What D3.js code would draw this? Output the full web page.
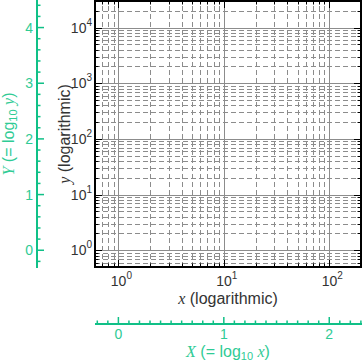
<!DOCTYPE html>
<html lang="en">
<head>
<meta charset="UTF-8" />
<title>Log axes</title>
<script src="https://cdn.jsdelivr.net/npm/d3@7"></script>
<style>
  body { margin: 0; background: #fff; }
  svg { display: block; }
  .grid-major { stroke: #8c8c8c; stroke-width: 1; }
  .grid-minor { stroke: #8c8c8c; stroke-width: 1; stroke-dasharray: 5,3; }
  .frame { fill: none; stroke: #000; stroke-width: 2; }
  .tick { stroke: #000; stroke-width: 1; }
  .lbl { font-family: "Liberation Sans", Arial, sans-serif; fill: #333; }
  .teal { stroke: #10c087; stroke-width: 2; }
  .teal-tick { stroke: #10c087; stroke-width: 1.5; }
  .teal-lbl { font-family: "Liberation Sans", Arial, sans-serif; fill: #2fcb95; }
  .math { font-family: "Liberation Serif", "DejaVu Serif", serif; font-style: italic; }
</style>
</head>
<body>
<script>
// data
var xDomain = [0.6, 200];
var yDomain = [0.5, 30000];
var xDecades = [1, 10, 100];
var yDecades = [1, 10, 100, 1000, 10000];
var xExp = [0, 1, 2];
var yExp = [0, 1, 2, 3, 4];
var XMajor = [0, 1, 2];
var YMajor = [0, 1, 2, 3, 4];
var XStep = 0.1, YStep = 0.2;

var W = 362, H = 363;
var margin = {left: 95, top: 1, right: 1, bottom: 96};

var svg = d3.select("body").append("svg")
  .attr("width", W).attr("height", H);

var x = d3.scaleLog().domain(xDomain).range([margin.left, W - margin.right]);
var y = d3.scaleLog().domain(yDomain).range([H - margin.bottom, margin.top]);

var x0 = margin.left, x1 = W - margin.right, y0 = H - margin.bottom, y1 = margin.top;

// minor values (2..9 multiples)
var xMinor = x.ticks(20).filter(function(v) { return xDecades.indexOf(v) < 0 && v >= xDomain[0] && v <= xDomain[1]; });
var yMinor = y.ticks(40).filter(function(v) { return yDecades.indexOf(v) < 0 && v >= yDomain[0] && v <= yDomain[1]; });

// grid
var g = svg.append("g");
g.selectAll(".gxm").data(xMinor).enter().append("line")
  .attr("class", "grid-minor")
  .attr("x1", function(d) { return Math.round(x(d)) + 0.5; })
  .attr("x2", function(d) { return Math.round(x(d)) + 0.5; })
  .attr("y1", y0).attr("y2", y1);
g.selectAll(".gym").data(yMinor).enter().append("line")
  .attr("class", "grid-minor")
  .attr("y1", function(d) { return Math.round(y(d)) + 0.5; })
  .attr("y2", function(d) { return Math.round(y(d)) + 0.5; })
  .attr("x1", x0).attr("x2", x1);
g.selectAll(".gxM").data(xDecades).enter().append("line")
  .attr("class", "grid-major")
  .attr("x1", function(d) { return Math.round(x(d)) + 0.5; })
  .attr("x2", function(d) { return Math.round(x(d)) + 0.5; })
  .attr("y1", y0).attr("y2", y1);
g.selectAll(".gyM").data(yDecades).enter().append("line")
  .attr("class", "grid-major")
  .attr("y1", function(d) { return Math.round(y(d)) + 0.5; })
  .attr("y2", function(d) { return Math.round(y(d)) + 0.5; })
  .attr("x1", x0).attr("x2", x1);

// inner ticks on frame
function tickLen(v, decades) { return decades.indexOf(v) >= 0 ? 7 : 3.5; }
var allX = xDecades.concat(xMinor), allY = yDecades.concat(yMinor);
g.selectAll(".tb").data(allX).enter().append("line").attr("class", "tick")
  .attr("x1", function(d) { return Math.round(x(d)) + 0.5; })
  .attr("x2", function(d) { return Math.round(x(d)) + 0.5; })
  .attr("y1", y0).attr("y2", function(d) { return y0 - tickLen(d, xDecades); });
g.selectAll(".tt").data(allX).enter().append("line").attr("class", "tick")
  .attr("x1", function(d) { return Math.round(x(d)) + 0.5; })
  .attr("x2", function(d) { return Math.round(x(d)) + 0.5; })
  .attr("y1", y1).attr("y2", function(d) { return y1 + tickLen(d, xDecades); });
g.selectAll(".tl").data(allY).enter().append("line").attr("class", "tick")
  .attr("y1", function(d) { return Math.round(y(d)) + 0.5; })
  .attr("y2", function(d) { return Math.round(y(d)) + 0.5; })
  .attr("x1", x0).attr("x2", function(d) { return x0 + tickLen(d, yDecades); });
g.selectAll(".tr").data(allY).enter().append("line").attr("class", "tick")
  .attr("y1", function(d) { return Math.round(y(d)) + 0.5; })
  .attr("y2", function(d) { return Math.round(y(d)) + 0.5; })
  .attr("x1", x1).attr("x2", function(d) { return x1 - tickLen(d, yDecades); });

svg.append("rect").attr("class", "frame")
  .attr("x", x0).attr("y", y1).attr("width", x1 - x0).attr("height", y0 - y1);

// decade labels
var yl = svg.selectAll(".yl").data(yDecades).enter().append("text")
  .attr("class", "lbl").attr("font-size", 14)
  .attr("text-anchor", "end")
  .attr("x", x0 - 3)
  .attr("y", function(d) { return y(d) + 5; });
yl.append("tspan").text("10");
yl.append("tspan").attr("font-size", 10).attr("dy", -7)
  .text(function(d, i) { return yExp[i]; });

var xl = svg.selectAll(".xl").data(xDecades).enter().append("text")
  .attr("class", "lbl").attr("font-size", 14)
  .attr("text-anchor", "middle")
  .attr("x", function(d) { return x(d) + 3; })
  .attr("y", y0 + 19);
xl.append("tspan").text("10");
xl.append("tspan").attr("font-size", 10).attr("dy", -7)
  .text(function(d, i) { return xExp[i]; });

// axis titles
var xt = svg.append("text").attr("class", "lbl").attr("font-size", 16)
  .attr("text-anchor", "middle")
  .attr("x", (x0 + x1) / 2).attr("y", y0 + 37);
xt.append("tspan").attr("class", "math").text("x");
xt.append("tspan").text(" (logarithmic)");

var yt = svg.append("text").attr("class", "lbl").attr("font-size", 16)
  .attr("text-anchor", "middle")
  .attr("transform", "translate(" + (x0 - 25) + "," + ((y0 + y1) / 2) + ")rotate(-90)");
yt.append("tspan").attr("class", "math").text("y");
yt.append("tspan").text(" (logarithmic)");

// secondary linear axes (log10 values)
var X = d3.scaleLinear().domain([Math.log10(xDomain[0]), Math.log10(xDomain[1])]).range([x0, x1]);
var Y = d3.scaleLinear().domain([Math.log10(yDomain[0]), Math.log10(yDomain[1])]).range([y0, y1]);
var axY = 324, axX = 37;

function stepTicks(dom, step) {
  var out = [];
  var s = Math.ceil(dom[0] / step - 1e-9), e = Math.floor(dom[1] / step + 1e-9);
  for (var k = s; k <= e; k++) out.push(+(k * step).toFixed(4));
  return out;
}

svg.append("line").attr("class", "teal")
  .attr("x1", x0).attr("x2", W).attr("y1", axY).attr("y2", axY);
svg.selectAll(".bX").data(stepTicks(X.domain(), XStep)).enter().append("line")
  .attr("class", "teal-tick")
  .attr("x1", function(d) { return X(d); }).attr("x2", function(d) { return X(d); })
  .attr("y1", axY).attr("y2", function(d) { return XMajor.indexOf(d) >= 0 ? axY - 7 : axY - 3.5; });
svg.selectAll(".bXl").data(XMajor).enter().append("text")
  .attr("class", "teal-lbl").attr("font-size", 14).attr("text-anchor", "middle")
  .attr("x", function(d) { return X(d); }).attr("y", axY + 15)
  .text(function(d) { return d; });

svg.append("line").attr("class", "teal")
  .attr("x1", axX).attr("x2", axX).attr("y1", 0).attr("y2", y0 + 1);
svg.selectAll(".lY").data(stepTicks(Y.domain(), YStep)).enter().append("line")
  .attr("class", "teal-tick")
  .attr("y1", function(d) { return Y(d); }).attr("y2", function(d) { return Y(d); })
  .attr("x1", axX).attr("x2", function(d) { return YMajor.indexOf(d) >= 0 ? axX + 7 : axX + 3.5; });
svg.selectAll(".lYl").data(YMajor).enter().append("text")
  .attr("class", "teal-lbl").attr("font-size", 14).attr("text-anchor", "end")
  .attr("x", axX - 4).attr("y", function(d) { return Y(d) + 5; })
  .text(function(d) { return d; });

var Xt = svg.append("text").attr("class", "teal-lbl").attr("font-size", 16)
  .attr("text-anchor", "middle")
  .attr("x", (x0 + x1) / 2).attr("y", 357);
Xt.append("tspan").attr("class", "math").text("X");
Xt.append("tspan").text(" (= log");
Xt.append("tspan").attr("font-size", 11).attr("dy", 3).text("10");
Xt.append("tspan").attr("dy", -3).text(" ");
Xt.append("tspan").attr("class", "math").text("x");
Xt.append("tspan").text(")");

var Yt = svg.append("text").attr("class", "teal-lbl").attr("font-size", 16)
  .attr("text-anchor", "middle")
  .attr("transform", "translate(" + 14 + "," + ((y0 + y1) / 2) + ")rotate(-90)");
Yt.append("tspan").attr("class", "math").text("Y");
Yt.append("tspan").text(" (= log");
Yt.append("tspan").attr("font-size", 11).attr("dy", 3).text("10");
Yt.append("tspan").attr("dy", -3).text(" ");
Yt.append("tspan").attr("class", "math").text("y");
Yt.append("tspan").text(")");
</script>
</body>
</html>
